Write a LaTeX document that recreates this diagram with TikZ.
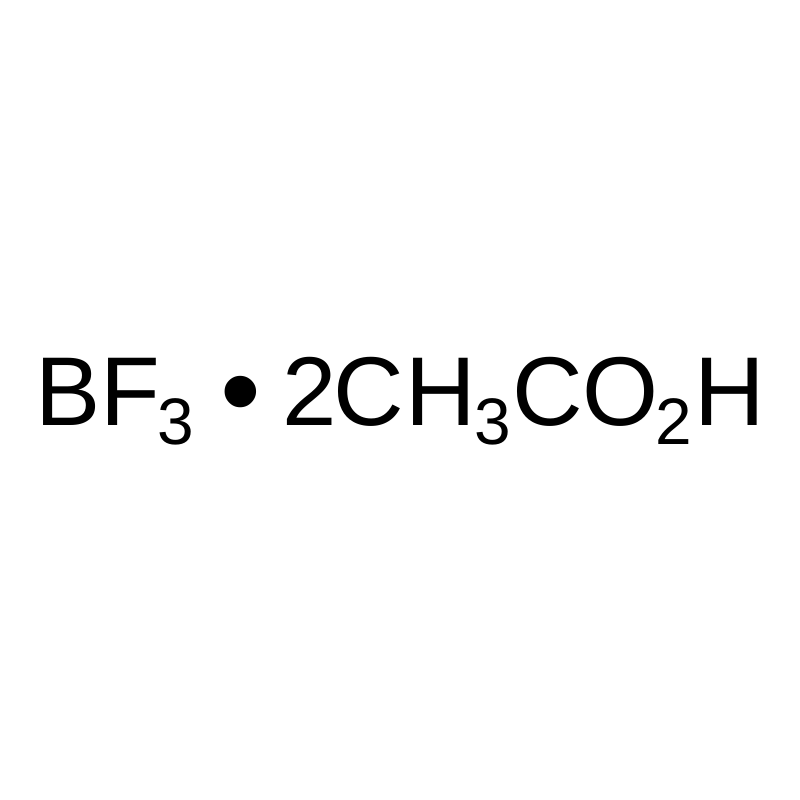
\documentclass[tikz,border=0pt]{standalone}
\usepackage{fontspec}
\setmainfont{Liberation Sans}
\begin{document}
\begin{tikzpicture}[x=0.01cm,y=-0.01cm,
  big/.style={inner sep=0pt,outer sep=0pt,anchor=base west,font=\fontsize{27.8}{30}\selectfont},
  small/.style={inner sep=0pt,outer sep=0pt,anchor=base west,font=\fontsize{18.7}{20}\selectfont}]
\useasboundingbox[fill=white] (0,0) rectangle (800,800);
\node[big] (bf) at (35,425) {BF};
\node[small] (s1) at (157,444) {3};
\node[big,anchor=base,font=\fontsize{33}{33}\selectfont] (dot) at (241,430) {•};
\node[big] (two) at (282,425) {2};
\node[big] (c1) at (333,425) {C};
\node[big] (h1) at (405,425) {H};
\node[small] (s2) at (474,444) {3};
\node[big] (co) at (512,425) {CO};
\node[small] (s3) at (655,444) {2};
\node[big] (h) at (694,425) {H};
\end{tikzpicture}
\end{document}
